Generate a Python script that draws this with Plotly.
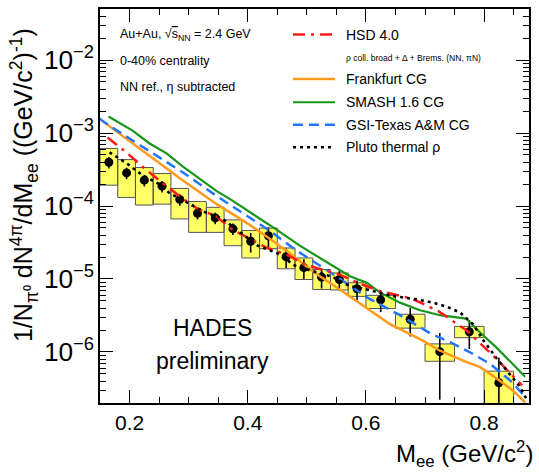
import plotly.graph_objects as go

# ---------------- data ----------------
bin_lo = [0.15, 0.18, 0.21, 0.24, 0.27, 0.30, 0.33, 0.36, 0.39, 0.42,
          0.45, 0.48, 0.51, 0.54, 0.57, 0.60, 0.65, 0.70, 0.75, 0.80]
bin_hi = [0.18, 0.21, 0.24, 0.27, 0.30, 0.33, 0.36, 0.39, 0.42, 0.45,
          0.48, 0.51, 0.54, 0.57, 0.60, 0.65, 0.70, 0.75, 0.80, 0.85]
data_y = [3.97e-4, 2.84e-4, 2.26e-4, 1.87e-4, 1.23e-4, 7.96e-5, 6.87e-5, 4.87e-5,
          3.29e-5, 3.91e-5, 2.02e-5, 1.43e-5, 1.06e-5, 9.84e-6, 7.36e-6, 5.18e-6,
          2.81e-6, 1.01e-6, 1.89e-6, 3.79e-7]
sys_hi = [6.15e-4, 4.32e-4, 3.37e-4, 2.79e-4, 1.74e-4, 1.15e-4, 9.6e-5, 6.45e-5,
          4.61e-5, 4.98e-5, 2.66e-5, 1.94e-5, 1.35e-5, 1.21e-5, 8.87e-6, 5.97e-6,
          3.29e-6, 1.29e-6, 2.24e-6, 5.46e-7]
sys_lo = [1.93e-4, 1.31e-4, 1.03e-4, 1.06e-4, 6.65e-5, 4.35e-5, 4.35e-5, 2.86e-5,
          1.94e-5, 2.60e-5, 1.38e-5, 9.84e-6, 7.19e-6, 7.08e-6, 5.78e-6, 3.94e-6,
          2.12e-6, 7.46e-7, 1.57e-6, 1.9e-7]
stat_rel_up = [0.18] * 8 + [0.3] * 7 + [0.36, 0.43, 0.8, 0.45, 1.2]
stat_rel_dn = [0.18] * 8 + [0.3] * 7 + [0.32, 0.42, 0.78, 0.42, 0.97]

hsd_x = [0.1627, 0.1966, 0.2288, 0.2559, 0.2864, 0.3153, 0.3458, 0.3746, 0.4068, 0.4322,
         0.4661, 0.4966, 0.5254, 0.5559, 0.5847, 0.6237, 0.6780, 0.7220, 0.7712, 0.8153, 0.8644]
hsd_y = [8.69e-4, 5.26e-4, 3.09e-4, 2.06e-4, 1.33e-4, 9.10e-5, 7.31e-5, 4.71e-5, 3.44e-5, 2.68e-5,
         2.16e-5, 1.58e-5, 1.35e-5, 1.15e-5, 8.96e-6, 6.82e-6, 5.38e-6, 3.65e-6, 1.95e-6, 8.91e-7, 3.48e-7]

ffm_x = [0.1492, 0.1915, 0.2339, 0.2898, 0.3475, 0.4034, 0.4373, 0.4656, 0.4932, 0.5220,
         0.5559, 0.6119, 0.6407, 0.6966, 0.7254, 0.7644, 0.7932, 0.8220, 0.8492, 0.8695]
ffm_y = [1.56e-3, 8.69e-4, 4.79e-4, 2.26e-4, 1.06e-4, 5.51e-5, 3.56e-5, 2.44e-5, 1.63e-5, 1.09e-5,
         7.19e-6, 3.50e-6, 2.40e-6, 1.43e-6, 1.04e-6, 7.62e-7, 6.20e-7, 4.30e-7, 2.95e-7, 2.02e-7]

smash_x = [0.1644, 0.2051, 0.2339, 0.2627, 0.2898, 0.3186, 0.3475, 0.3695, 0.4034, 0.4475, 0.4881,
           0.5390, 0.5729, 0.6017, 0.6237, 0.6576, 0.6915, 0.7254, 0.7695, 0.7932, 0.8220, 0.8695]
smash_y = [1.68e-3, 1.08e-3, 7.19e-4, 5.26e-4, 3.50e-4, 2.40e-4, 1.60e-4, 1.25e-4, 8.36e-5, 4.82e-5,
           2.86e-5, 1.58e-5, 1.09e-5, 8.87e-6, 6.55e-6, 4.74e-6, 3.73e-6, 3.19e-6, 2.87e-6, 1.85e-6,
           1.13e-6, 4.57e-7]

gsi_x = [0.1492, 0.1661, 0.2000, 0.2339, 0.2898, 0.3475, 0.4000, 0.4373, 0.4831, 0.5169,
         0.5508, 0.6017, 0.6576, 0.7085, 0.7424, 0.7763, 0.8102, 0.8441, 0.8695]
gsi_y = [1.57e-3, 1.26e-3, 8.41e-4, 5.60e-4, 2.90e-4, 1.37e-4, 7.31e-5, 4.57e-5, 2.44e-5, 1.63e-5,
         1.08e-5, 5.60e-6, 3.19e-6, 1.81e-6, 1.36e-6, 9.91e-7, 6.87e-7, 4.07e-7, 2.44e-7]

pluto_x = [0.1661, 0.1949, 0.2220, 0.2508, 0.2678, 0.2966, 0.3271, 0.3559, 0.3864, 0.4169,
           0.4492, 0.4797, 0.5102, 0.5424, 0.5729, 0.6017, 0.6458, 0.6864, 0.7136, 0.7373,
           0.7593, 0.7814, 0.7983, 0.8220, 0.8390, 0.8610, 0.8712]
pluto_y = [5.43e-4, 3.85e-4, 2.64e-4, 1.99e-4, 1.50e-4, 1.13e-4, 8.28e-5, 6.80e-5, 4.47e-5, 2.86e-5,
           2.27e-5, 1.53e-5, 1.28e-5, 1.08e-5, 7.98e-6, 7.19e-6, 5.83e-6, 5.26e-6, 4.74e-6, 4.16e-6,
           3.47e-6, 2.40e-6, 1.46e-6, 8.03e-7, 5.51e-7, 3.31e-7, 2.30e-7]

legend_names = ["HSD 4.0", "Frankfurt CG", "SMASH 1.6 CG", "GSI-Texas A&M CG", "Pluto thermal ρ"]
FONT = "Liberation Sans, Arial, Helvetica, sans-serif"

# ---------------- styles ----------------
RED = dict(color="#ff1a1a", width=2.5, dash="12px,6px,3px,6px")
ORANGE = dict(color="#ff9a1a", width=2.5)
GREEN = dict(color="#17971a", width=2.2)
BLUE = dict(color="#2176ff", width=2.5, dash="10px,6px")
BLACK = dict(color="black", width=2.6, dash="3px,4px")

fig = go.Figure()

# systematic boxes
bx, by = [], []
for lo, hi, ylo, yhi in zip(bin_lo, bin_hi, sys_lo, sys_hi):
    bx += [lo, hi, hi, lo, lo, None]
    by += [ylo, ylo, yhi, yhi, ylo, None]
fig.add_trace(go.Scatter(x=bx, y=by, mode="lines", fill="toself",
                         fillcolor="#ffff66", line=dict(color="#555555", width=1),
                         hoverinfo="skip", showlegend=False))

# data points
xc = [(a + b) / 2 for a, b in zip(bin_lo, bin_hi)]
fig.add_trace(go.Scatter(
    x=xc, y=data_y, mode="markers",
    marker=dict(color="black", size=9),
    error_y=dict(type="data", symmetric=False,
                 array=[v * r for v, r in zip(data_y, stat_rel_up)],
                 arrayminus=[v * r for v, r in zip(data_y, stat_rel_dn)],
                 color="black", thickness=1.6, width=0),
    showlegend=False))

# model curves
fig.add_trace(go.Scatter(x=ffm_x, y=ffm_y, mode="lines", line=ORANGE, showlegend=False))
fig.add_trace(go.Scatter(x=smash_x, y=smash_y, mode="lines", line=GREEN, showlegend=False))
fig.add_trace(go.Scatter(x=gsi_x, y=gsi_y, mode="lines", line=BLUE, showlegend=False))
fig.add_trace(go.Scatter(x=hsd_x, y=hsd_y, mode="lines", line=RED, showlegend=False))
fig.add_trace(go.Scatter(x=pluto_x, y=pluto_y, mode="lines", line=BLACK, showlegend=False))

# ---------------- layout ----------------
W, H = 539, 473
L, R, T, B = 100, 10, 7, 70
pw, ph = W - L - R, H - T - B


def px2paper(px, py):
    return (px - L) / pw, (H - B - py) / ph


fig.update_layout(
    width=W, height=H,
    margin=dict(l=L, r=R, t=T, b=B, pad=0),
    paper_bgcolor="white", plot_bgcolor="white",
    font=dict(family=FONT, color="black"),
    showlegend=False,
)
fig.update_xaxes(
    range=[0.15, 0.876], showgrid=False, zeroline=False,
    showline=True, linecolor="black", linewidth=1.5, mirror="allticks",
    ticks="inside", ticklen=13, tickwidth=1.2, tickcolor="black",
    tick0=0.2, dtick=0.2, tickformat=".1f",
    tickfont=dict(size=21, family=FONT),
    minor=dict(ticks="inside", ticklen=6.5, tickwidth=1.2, tickcolor="black", dtick=0.05, tick0=0.2),
)
fig.update_yaxes(
    type="log", range=[-6.699, -1.301], showgrid=False, zeroline=False,
    showline=True, linecolor="black", linewidth=1.5, mirror="allticks",
    ticks="inside", ticklen=13, tickwidth=1.2, tickcolor="black",
    dtick=1, exponentformat="power",
    tickfont=dict(size=21, family=FONT),
    minor=dict(ticks="inside", ticklen=6.5, tickwidth=1.2, tickcolor="black", dtick="D1"),
)

shapes = []
ann = []

# legend
leg_rows = [32.7, 77.3, 100.7, 123.3, 146.0]
leg_styles = [RED, ORANGE, GREEN, BLUE, BLACK]
x0p, _ = px2paper(293, 0)
x1p, _ = px2paper(335, 0)
xt, _ = px2paper(344, 0)
for name, row, st in zip(legend_names, leg_rows, leg_styles):
    _, yp = px2paper(0, row)
    shapes.append(dict(type="line", xref="paper", yref="paper", x0=x0p, x1=x1p, y0=yp, y1=yp,
                       line=st))
    ann.append(dict(text=name, xref="paper", yref="paper", x=xt, y=yp, xanchor="left",
                    yanchor="middle", showarrow=False, font=dict(size=14, family=FONT)))
_, yp = px2paper(0, 56)
ann.append(dict(text="ρ coll. broad + Δ + Brems. (NN, πN)", xref="paper", yref="paper",
                x=xt, y=yp, xanchor="left", yanchor="middle", showarrow=False,
                font=dict(size=8.5, family=FONT)))

# top-left labels
for txt, row in [("Au+Au, √<span style='text-decoration:overline'>s</span><sub>NN</sub> = 2.4 GeV", 33),
                 ("0-40% centrality", 59.3),
                 ("NN ref., η subtracted", 85)]:
    xp, yp = px2paper(118, row)
    ann.append(dict(text=txt, xref="paper", yref="paper", x=xp, y=yp, xanchor="left",
                    yanchor="middle", showarrow=False, font=dict(size=12.5, family=FONT)))

# HADES preliminary
for txt, row in [("HADES", 328), ("preliminary", 361)]:
    xp, yp = px2paper(212, row)
    ann.append(dict(text=txt, xref="paper", yref="paper", x=xp, y=yp, xanchor="center",
                    yanchor="middle", showarrow=False, font=dict(size=23, family=FONT)))

# axis titles
xp, yp = px2paper(24, 184)
ann.append(dict(text="1/N<sub>π⁰</sub> dN<sup>4π</sup>/dM<sub>ee</sub> ((GeV/c<sup>2</sup>)<sup>-1</sup>)",
                xref="paper", yref="paper", x=xp, y=yp, xanchor="center", yanchor="middle",
                textangle=-90, showarrow=False, font=dict(size=25, family=FONT)))
xp, yp = px2paper(535, 454)
ann.append(dict(text="M<sub>ee</sub> (GeV/c<sup>2</sup>)", xref="paper", yref="paper",
                x=xp, y=yp, xanchor="right", yanchor="middle", showarrow=False,
                font=dict(size=24, family=FONT)))

fig.update_layout(shapes=shapes, annotations=ann)
fig.write_html("out.html")
